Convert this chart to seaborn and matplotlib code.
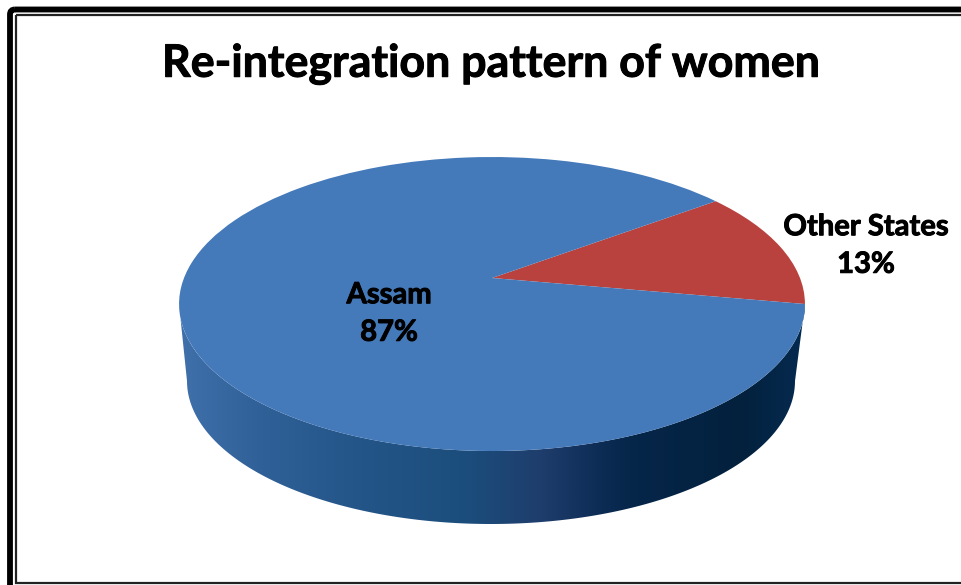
import numpy as np
import seaborn as sns
import matplotlib.pyplot as plt
import matplotlib.patheffects as pe
from matplotlib.colors import LinearSegmentedColormap
from matplotlib.patches import FancyBboxPatch, Polygon, Rectangle
from matplotlib.transforms import Transform

labels = ['Other States', 'Assam']
values = [13, 87]
colors = ['#b9423f', '#4479ba']
wall_stops = [0, 0.13, 0.29, 0.46, 0.58, 0.66, 0.72, 0.9, 1]
wall_colors = ['#3f70aa', '#2f6097', '#245588', '#1b4d7c', '#1f3d6c', '#0f2e58', '#06264a', '#03213d', '#052a50']

sns.set_theme(style='white')
plt.rcParams['font.family'] = ['Lato', 'DejaVu Sans']

W, H = 962, 585
CX, CY = 492, 278


class TopFace(Transform):
    # tilted disc: unit circle to pixels, the centre sits above the ellipse middle
    input_dims = 2
    output_dims = 2

    def transform_non_affine(self, xy):
        xy = np.asarray(xy)
        w = 1 + 0.177 * xy[:, 1]
        return np.column_stack([CX + 308 * xy[:, 0] / w, CY - 142.4 * xy[:, 1] / w])


fig = plt.figure(figsize=(W / 100, H / 100), dpi=100)
ax = fig.add_axes([0, 0, 1, 1])

wedges, _ = ax.pie(values, colors=colors, startangle=-10.2, radius=1,
                   counterclock=True, wedgeprops=dict(linewidth=0))
face = TopFace()
for w in wedges:
    w.set_transform(face + ax.transData)

ax.set_aspect('auto')

# side wall of the disc
t = np.linspace(0, np.pi, 200)
top_x, top_y = 492 + 313 * np.cos(t), 304 + 147 * np.sin(t)
low_x, low_y = 491 + 304 * np.cos(t), 381 + 143 * np.sin(t)
wall = Polygon(np.column_stack([np.r_[top_x, low_x[::-1]], np.r_[top_y, low_y[::-1]]]),
               closed=True, transform=ax.transData, facecolor='none', edgecolor='none')
ax.add_patch(wall)
cmap = LinearSegmentedColormap.from_list('wall', list(zip(wall_stops, wall_colors)))
img = ax.imshow(np.linspace(0, 1, 256)[None, :], cmap=cmap, aspect='auto',
                extent=(180, 805, 530, 290), zorder=0.5)
img.set_clip_path(wall)
ax.set_xlim(0, W)
ax.set_ylim(H, 0)

# frame
ax.add_patch(FancyBboxPatch((10, 9.5), W + 40, H + 40, boxstyle='round,pad=0,rounding_size=5',
                            fc='none', ec='black', lw=4.2, clip_on=True))
ax.add_patch(Rectangle((16, 15), W + 40, 568, fc='none', ec='#222222', lw=1.6))

heavy = [pe.withStroke(linewidth=0.7, foreground='black')]
ax.text(491, 64, 'Re-integration pattern of women', ha='center', va='center',
        fontsize=32.2, fontweight='bold', color='black', path_effects=heavy)
ax.text(389, 314, f'{labels[1]}\n{values[1]}%', ha='center', va='center',
        fontsize=21, fontweight='bold', color='black', linespacing=1.55, path_effects=heavy)
ax.text(866, 246, f'{labels[0]}\n{values[0]}%', ha='center', va='center',
        fontsize=21, fontweight='bold', color='black', linespacing=1.55, path_effects=heavy)

fig.savefig('out.png', dpi=100)
